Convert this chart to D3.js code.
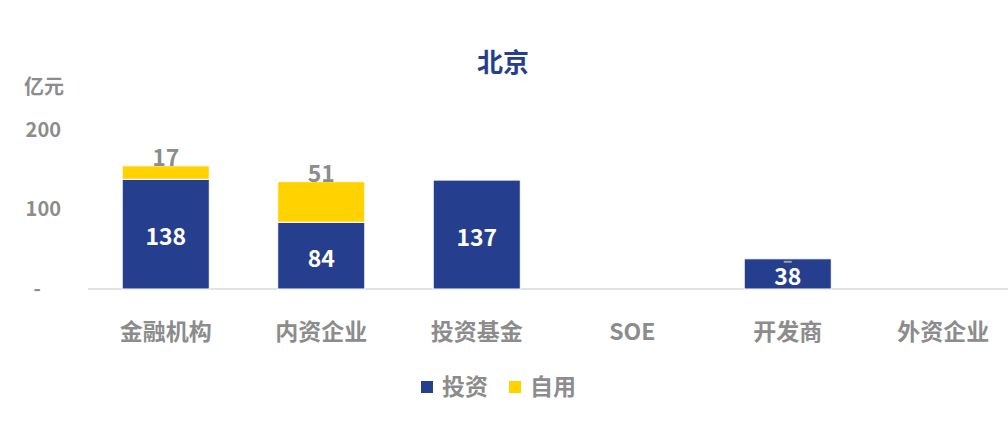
<!DOCTYPE html>
<html>
<head>
<meta charset="utf-8">
<script src="https://cdn.jsdelivr.net/npm/d3@7"></script>
<style>
  body { margin: 0; background: #fff; }
  text { font-family: "Noto Sans CJK SC", "Noto Sans", sans-serif; font-weight: bold; }
</style>
</head>
<body>
<div class="box"></div>
<script>
// donnees
const categories = ['金融机构', '内资企业', '投资基金', 'SOE', '开发商', '外资企业']
const investValues = [138, 84, 137, null, 38, null]
const selfUseValues = [17, 51, null, null, 0, null]
const yTicks = [0, 100, 200]
const seriesNames = ['投资', '自用']
const colors = ['#253F8E', '#FFD200']

const W = 1008, H = 439
const svg = d3.select('.box')
  .append('svg')
  .attr('width', W)
  .attr('height', H)

const x = d3.scaleBand()
  .domain(categories)
  .range([88, 1021])
  .paddingInner(0.44)
  .paddingOuter(0.22)

const y = d3.scaleLinear()
  .domain([0, 200])
  .range([289, 130])

// titre
svg.append('text')
  .attr('x', 503).attr('y', 72)
  .attr('text-anchor', 'middle')
  .style('font-size', '26px')
  .attr('fill', '#253F8E')
  .text('北京')

// unite
svg.append('text')
  .attr('x', 24).attr('y', 94)
  .style('font-size', '20px')
  .attr('fill', '#8C8C8C')
  .text('亿元')

// axe y (sans ligne)
const axeY = d3.axisLeft(y)
  .tickValues(yTicks)
  .tickSize(0)
  .tickPadding(0)
  .tickFormat(d => d === 0 ? '-\u2002\u2002' : d)
const gy = svg.append('g')
  .attr('transform', 'translate(61,0)')
  .call(axeY)
gy.select('.domain').remove()
gy.selectAll('text')
  .style('font-size', '20px')
  .attr('fill', '#8C8C8C')
  .style('white-space', 'pre')

// ligne de base
svg.append('line')
  .attr('x1', 88).attr('x2', W)
  .attr('y1', y(0)).attr('y2', y(0))
  .attr('stroke', '#D9D9D9')
  .attr('stroke-width', 1.5)

// barres empilees
const rows = categories.map((c, i) => ({ cat: c, inv: investValues[i], self: selfUseValues[i] }))

const invRows = rows.filter(d => d.inv !== null)
svg.append('g').selectAll('rect')
  .data(invRows)
  .enter()
  .append('rect')
  .attr('x', d => x(d.cat))
  .attr('width', x.bandwidth())
  .attr('y', d => y(d.inv))
  .attr('height', d => y(0) - y(d.inv))
  .attr('fill', colors[0])
  .attr('stroke', '#fff')
  .attr('stroke-width', 1)

const selfRows = rows.filter(d => d.self !== null && d.self > 0)
svg.append('g').selectAll('rect')
  .data(selfRows)
  .enter()
  .append('rect')
  .attr('x', d => x(d.cat))
  .attr('width', x.bandwidth())
  .attr('y', d => y((d.inv || 0) + d.self))
  .attr('height', d => y(d.inv || 0) - y((d.inv || 0) + d.self))
  .attr('fill', colors[1])
  .attr('stroke', '#fff')
  .attr('stroke-width', 1)

// etiquettes
svg.append('g').selectAll('text')
  .data(invRows)
  .enter()
  .append('text')
  .attr('x', d => x(d.cat) + x.bandwidth() / 2)
  .attr('y', d => (y(d.inv) + y(0)) / 2 + 11)
  .attr('text-anchor', 'middle')
  .style('font-size', '23px')
  .attr('fill', '#fff')
  .text(d => d.inv)

svg.append('g').selectAll('text')
  .data(selfRows)
  .enter()
  .append('text')
  .attr('x', d => x(d.cat) + x.bandwidth() / 2)
  .attr('y', d => y((d.inv || 0) + d.self))
  .attr('text-anchor', 'middle')
  .style('font-size', '23px')
  .attr('fill', '#8C8C8C')
  .text(d => d.self)

// petit repere pour les valeurs nulles
svg.append('g').selectAll('rect')
  .data(rows.filter(d => d.self === 0))
  .enter()
  .append('rect')
  .attr('x', d => x(d.cat) + x.bandwidth() / 2 - 4)
  .attr('y', d => y(d.inv || 0) + 2)
  .attr('width', 8).attr('height', 2)
  .attr('fill', '#A0A0A0')

// axe x
const axeX = d3.axisBottom(x).tickSize(0).tickPadding(0)
const gx = svg.append('g')
  .attr('transform', `translate(0, 340)`)
  .call(axeX)
gx.select('.domain').remove()
gx.selectAll('text')
  .attr('dy', 0)
  .style('font-size', '23px')
  .attr('fill', '#8C8C8C')

// legende
const legend = svg.append('g').selectAll('g')
  .data(seriesNames)
  .enter()
  .append('g')
  .attr('transform', (d, i) => `translate(${421 + i * 88}, 381)`)
legend.append('rect')
  .attr('width', 12).attr('height', 12)
  .attr('fill', (d, i) => colors[i])
legend.append('text')
  .attr('x', 21).attr('y', 14)
  .style('font-size', '23px')
  .attr('fill', '#8C8C8C')
  .text(d => d)
</script>
</body>
</html>
